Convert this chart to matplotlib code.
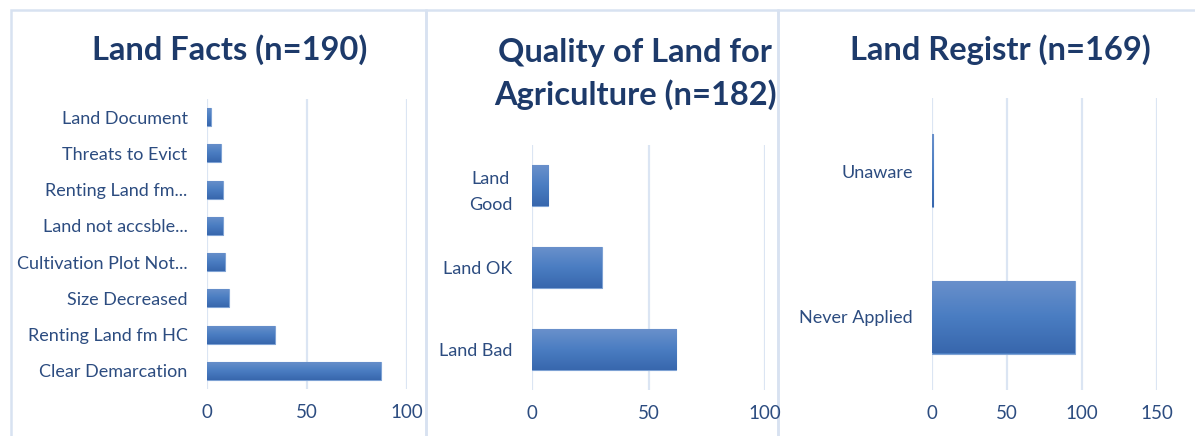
import numpy as np
import matplotlib
matplotlib.use("Agg")
import matplotlib.pyplot as plt
from matplotlib.patches import Rectangle
from matplotlib.colors import LinearSegmentedColormap

# data
facts_labels = ["Land Document", "Threats to Evict", "Renting Land fm...",
                "Land not accsble...", "Cultivation Plot Not...", "Size Decreased",
                "Renting Land fm HC", "Clear Demarcation"]
facts_values = [2, 7, 8, 8, 9, 11, 34, 87]

quality_labels = ["Land\nGood", "Land OK", "Land Bad"]
quality_values = [7, 30, 62]

registr_labels = ["Unaware", "Never Applied"]
registr_values = [1, 95]

W, H = 1195, 436
fig = plt.figure(figsize=(W / 100, H / 100), dpi=100)
fig.patch.set_facecolor("white")

title_col = "#1d3a6a"
label_col = "#2c4c80"
grid_col = "#dbe5f3"
border_col = "#d8e2f1"
fnt = "Lato"

grad = LinearSegmentedColormap.from_list("bar", ["#6990cb", "#4a7dc2", "#3867ad"])


def px_axes(left, top, right, bottom):
    return fig.add_axes([left / W, 1 - bottom / H, (right - left) / W, (bottom - top) / H])


def draw_panel(ax, labels, values, xmax, step):
    y = np.arange(len(labels))
    bars = ax.barh(y, values, height=0.5, color="#4a7dc2", edgecolor="#7ea2d4",
                   linewidth=0.8, zorder=3)
    g = np.linspace(0, 1, 64).reshape(-1, 1)
    for b in bars:
        x0, y0, w, h = b.get_x(), b.get_y(), b.get_width(), b.get_height()
        im = ax.imshow(g, extent=[x0, x0 + w, y0 + h, y0], origin="upper",
                       aspect="auto", cmap=grad, zorder=3.5)
        im.set_clip_path(b)
    ax.set_xlim(0, xmax)
    ax.set_ylim(len(labels) - 0.5, -0.5)
    ax.set_xticks(np.arange(0, xmax + 1, step))
    ax.set_yticks(y)
    ax.set_yticklabels(labels, fontsize=13, color=label_col, family=fnt,
                       multialignment="center", linespacing=1.75)
    for t in ax.get_xticklabels():
        t.set_fontsize(13.5)
        t.set_color(label_col)
        t.set_family(fnt)
    ax.tick_params(axis="x", length=0, pad=11)
    ax.tick_params(axis="y", length=0, pad=14)
    ax.grid(axis="x", color=grid_col, linewidth=1.6, zorder=0)
    ax.set_axisbelow(True)
    for s in ax.spines.values():
        s.set_visible(False)
    ax.set_facecolor("none")


ax1 = px_axes(207, 99, 407, 389)
draw_panel(ax1, facts_labels, facts_values, 100, 50)

ax2 = px_axes(532, 145, 765, 390)
draw_panel(ax2, quality_labels, quality_values, 100, 50)

ax3 = px_axes(932, 98, 1157, 390)
draw_panel(ax3, registr_labels, registr_values, 150, 50)

# panel borders
for x0, x1 in [(10.5, 426), (426, 778), (778, 1200)]:
    fig.add_artist(Rectangle((x0 / W, -0.1), (x1 - x0) / W, 1.1 - 10 / H,
                             transform=fig.transFigure, fill=False,
                             edgecolor=border_col, linewidth=1.8, zorder=0))

fig.text(230 / W, 1 - 50 / H, "Land Facts (n=190)", ha="center", va="center",
         fontsize=23.5, fontweight="bold", color=title_col, family=fnt)
fig.text(635 / W, 1 - 74 / H, "Quality of Land for\nAgriculture (n=182)", ha="center",
         va="center", fontsize=23.5, fontweight="bold", color=title_col, family=fnt,
         linespacing=1.45)
fig.text(1000 / W, 1 - 50 / H, "Land Registr (n=169)", ha="center", va="center",
         fontsize=23.5, fontweight="bold", color=title_col, family=fnt)

fig.savefig("out.png", dpi=100, facecolor="white")
